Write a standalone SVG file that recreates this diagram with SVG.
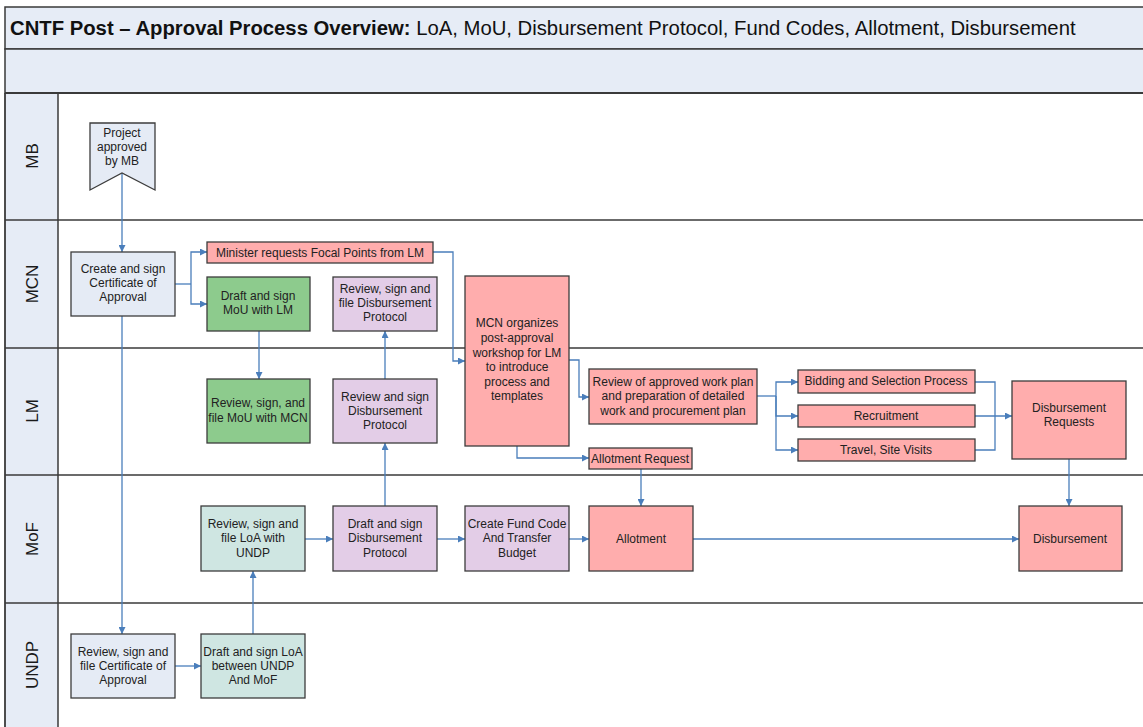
<svg xmlns="http://www.w3.org/2000/svg" width="1143" height="727" viewBox="0 0 1143 727">
<style>
.frame{fill:none;stroke:#3a3a3a;stroke-width:1.8}
.band{fill:#e6ecf6;stroke:#3a3a3a;stroke-width:1.5}
.lbl{font-family:"Liberation Sans",Arial,sans-serif;font-size:17px;fill:#1a1a1a;text-anchor:middle}
.t{font-family:"Liberation Sans",Arial,sans-serif;font-size:12px;fill:#222;text-anchor:middle}
.bx{stroke:#3c3c3c;stroke-width:1.3}
.blue{fill:#e5ebf5}
.green{fill:#8dcb8d}
.teal{fill:#cfe6e2}
.purple{fill:#e3cde7}
.pink{fill:#ffadad}
.c{fill:none;stroke:#4a7ebb;stroke-width:1.3}
.ca{fill:none;stroke:#4a7ebb;stroke-width:1.3;marker-end:url(#ah)}
</style>
<defs>
<marker id="ah" viewBox="0 0 10 10" refX="10" refY="5" markerWidth="7" markerHeight="7" markerUnits="userSpaceOnUse" orient="auto">
<path d="M0,0 L10,5 L0,10 z" fill="#4a7ebb"/>
</marker>
</defs>
<rect x="0" y="0" width="1143" height="727" fill="#ffffff"/>
<g id="header">
<rect class="band" x="5" y="7" width="1145" height="42"/>
<rect class="band" x="5" y="49" width="1145" height="44"/>
<text x="10" y="35" font-family="Liberation Sans,Arial,sans-serif" font-size="20.3" fill="#111"><tspan font-weight="bold">CNTF Post – Approval Process Overview:</tspan> LoA, MoU, Disbursement Protocol, Fund Codes, Allotment, Disbursement</text>
</g>
<g id="lanes">
<rect x="5" y="93" width="53" height="640" fill="#e6ecf6"/>
<line x1="5" y1="93" x2="5" y2="727" stroke="#3a3a3a" stroke-width="1.8"/>
<line x1="58" y1="93" x2="58" y2="727" stroke="#3a3a3a" stroke-width="1.5"/>
<line x1="5" y1="93" x2="1143" y2="93" stroke="#3a3a3a" stroke-width="1.8"/>
<line x1="5" y1="220" x2="1143" y2="220" stroke="#3a3a3a" stroke-width="1.5"/>
<line x1="5" y1="348" x2="1143" y2="348" stroke="#3a3a3a" stroke-width="1.5"/>
<line x1="5" y1="475" x2="1143" y2="475" stroke="#3a3a3a" stroke-width="1.5"/>
<line x1="5" y1="603" x2="1143" y2="603" stroke="#3a3a3a" stroke-width="1.5"/>
<text class="lbl" transform="translate(38,156) rotate(-90)">MB</text>
<text class="lbl" transform="translate(38,284) rotate(-90)">MCN</text>
<text class="lbl" transform="translate(38,411) rotate(-90)">LM</text>
<text class="lbl" transform="translate(38,539) rotate(-90)">MoF</text>
<text class="lbl" transform="translate(38,665) rotate(-90)">UNDP</text>
</g>
<g id="connectors">
<path class="ca" d="M122,173 L122,252"/>
<path class="c" d="M175,284 L191,284"/>
<path class="ca" d="M191,284 L191,252 L207,252"/>
<path class="ca" d="M191,284 L191,304 L207,304"/>
<path class="ca" d="M122,316 L122,634"/>
<path class="ca" d="M259,331 L259,379"/>
<path class="ca" d="M433,252 L453,252 L453,361 L465,361"/>
<path class="ca" d="M385,379 L385,331"/>
<path class="ca" d="M385,506 L385,443"/>
<path class="ca" d="M305,539 L333,539"/>
<path class="ca" d="M437,539 L465,539"/>
<path class="ca" d="M569,539 L589,539"/>
<path class="ca" d="M693,539 L1019,539"/>
<path class="ca" d="M175,666 L201,666"/>
<path class="ca" d="M253,634 L253,571"/>
<path class="ca" d="M569,360 L579,360 L579,397 L589,397"/>
<path class="ca" d="M517,446 L517,458 L589,458"/>
<path class="ca" d="M641,469 L641,506"/>
<path class="c" d="M757,396 L776,396"/>
<path class="ca" d="M776,396 L776,382 L798,382"/>
<path class="ca" d="M776,396 L776,416 L798,416"/>
<path class="ca" d="M776,396 L776,450 L798,450"/>
<path class="c" d="M975,382 L995,382 L995,450 L975,450"/>
<path class="ca" d="M975,416 L1012,416"/>
<path class="ca" d="M1069,459 L1069,506"/>
</g>
<g id="n-project">
<polygon class="bx blue" points="90,123 155,123 155,190 122,173 90,190"/>
<text class="t" x="122" y="137">Project</text>
<text class="t" x="122" y="151">approved</text>
<text class="t" x="122" y="165">by MB</text>
</g>
<g id="n-create-cert">
<rect class="bx blue" x="71" y="252" width="104" height="64"/>
<text class="t" x="123" y="273">Create and sign</text>
<text class="t" x="123" y="287">Certificate of</text>
<text class="t" x="123" y="301">Approval</text>
</g>
<g id="n-minister">
<rect class="bx pink" x="207" y="242" width="226" height="21"/>
<text class="t" x="320" y="257">Minister requests Focal Points from LM</text>
</g>
<g id="n-draft-mou">
<rect class="bx green" x="207" y="277" width="103" height="54"/>
<text class="t" x="258" y="300">Draft and sign</text>
<text class="t" x="258" y="314">MoU with LM</text>
</g>
<g id="n-mcn-review-dp">
<rect class="bx purple" x="333" y="277" width="104" height="54"/>
<text class="t" x="385" y="293">Review, sign and</text>
<text class="t" x="385" y="307">file Disbursement</text>
<text class="t" x="385" y="321">Protocol</text>
</g>
<g id="n-workshop">
<rect class="bx pink" x="465" y="276" width="104" height="170"/>
<text class="t" x="517" y="327">MCN organizes</text>
<text class="t" x="517" y="342">post-approval</text>
<text class="t" x="517" y="357">workshop for LM</text>
<text class="t" x="517" y="371">to introduce</text>
<text class="t" x="517" y="386">process and</text>
<text class="t" x="517" y="400">templates</text>
</g>
<g id="n-review-mou">
<rect class="bx green" x="207" y="379" width="103" height="64"/>
<text class="t" x="258" y="407">Review, sign, and</text>
<text class="t" x="258" y="422">file MoU with MCN</text>
</g>
<g id="n-lm-review-dp">
<rect class="bx purple" x="333" y="379" width="104" height="64"/>
<text class="t" x="385" y="401">Review and sign</text>
<text class="t" x="385" y="415">Disbursement</text>
<text class="t" x="385" y="429">Protocol</text>
</g>
<g id="n-workplan">
<rect class="bx pink" x="589" y="369" width="168" height="55"/>
<text class="t" x="673" y="386">Review of approved work plan</text>
<text class="t" x="673" y="400">and preparation of detailed</text>
<text class="t" x="673" y="415">work and procurement plan</text>
</g>
<g id="n-allot-req">
<rect class="bx pink" x="589" y="448" width="103" height="21"/>
<text class="t" x="640" y="463">Allotment Request</text>
</g>
<g id="n-bidding">
<rect class="bx pink" x="798" y="370" width="177" height="23"/>
<text class="t" x="886" y="385">Bidding and Selection Process</text>
</g>
<g id="n-recruit">
<rect class="bx pink" x="798" y="405" width="177" height="22"/>
<text class="t" x="886" y="420">Recruitment</text>
</g>
<g id="n-travel">
<rect class="bx pink" x="798" y="439" width="177" height="22"/>
<text class="t" x="886" y="454">Travel, Site Visits</text>
</g>
<g id="n-disb-req">
<rect class="bx pink" x="1012" y="381" width="114" height="78"/>
<text class="t" x="1069" y="412">Disbursement</text>
<text class="t" x="1069" y="426">Requests</text>
</g>
<g id="n-loa-mof">
<rect class="bx teal" x="201" y="506" width="104" height="65"/>
<text class="t" x="253" y="528">Review, sign and</text>
<text class="t" x="253" y="542">file LoA with</text>
<text class="t" x="253" y="557">UNDP</text>
</g>
<g id="n-draft-dp">
<rect class="bx purple" x="333" y="506" width="104" height="65"/>
<text class="t" x="385" y="528">Draft and sign</text>
<text class="t" x="385" y="542">Disbursement</text>
<text class="t" x="385" y="557">Protocol</text>
</g>
<g id="n-fund">
<rect class="bx purple" x="465" y="506" width="104" height="65"/>
<text class="t" x="517" y="528">Create Fund Code</text>
<text class="t" x="517" y="542">And Transfer</text>
<text class="t" x="517" y="557">Budget</text>
</g>
<g id="n-allotment">
<rect class="bx pink" x="589" y="506" width="104" height="65"/>
<text class="t" x="641" y="543">Allotment</text>
</g>
<g id="n-disbursement">
<rect class="bx pink" x="1019" y="506" width="103" height="65"/>
<text class="t" x="1070" y="543">Disbursement</text>
</g>
<g id="n-undp-cert">
<rect class="bx blue" x="71" y="634" width="104" height="64"/>
<text class="t" x="123" y="656">Review, sign and</text>
<text class="t" x="123" y="670">file Certificate of</text>
<text class="t" x="123" y="684">Approval</text>
</g>
<g id="n-loa-draft">
<rect class="bx teal" x="201" y="634" width="104" height="64"/>
<text class="t" x="253" y="656">Draft and sign LoA</text>
<text class="t" x="253" y="670">between UNDP</text>
<text class="t" x="253" y="684">And MoF</text>
</g>
</svg>
